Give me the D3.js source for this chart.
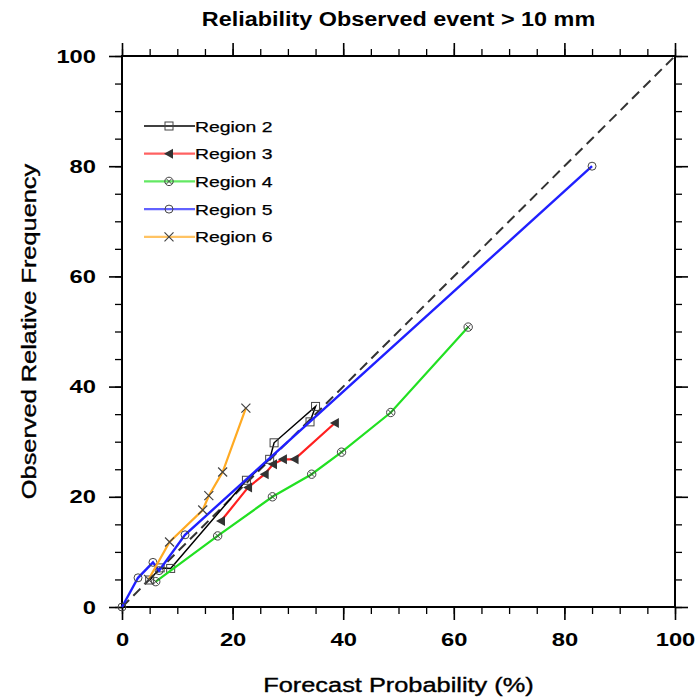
<!DOCTYPE html>
<html>
<head>
<meta charset="utf-8">
<script src="https://cdn.jsdelivr.net/npm/d3@7"></script>
<style>
  body { margin: 0; background: #fff; }
  text { font-family: "Liberation Sans", Arial, sans-serif; fill: #000; }
</style>
</head>
<body>
<script>
// chart size
var w = 696;
var h = 699;

// plot box
var pdL = 122;
var pdR = 21;
var pdT = 56;
var pdB = 92;

// data (forecast prob %, observed freq %)
var seriesNames = ["Region 2", "Region 3", "Region 4", "Region 5", "Region 6"];
var region2 = [[5.0, 4.9], [6.9, 7.1], [8.8, 7.0], [22.5, 23.0], [26.7, 26.8], [27.5, 29.8], [35.0, 36.4], [34.0, 33.6]];
var region3 = [[17.9, 15.6], [22.8, 21.7], [25.8, 24.1], [27.3, 25.9], [29.1, 26.8], [31.2, 26.8], [38.5, 33.4]];
var region4 = [[6.1, 4.6], [17.3, 12.9], [27.2, 20.0], [34.3, 24.1], [39.7, 28.1], [48.6, 35.3], [62.6, 50.8]];
var region5 = [[0, 0], [2.9, 5.3], [5.6, 8.1], [6.7, 6.6], [11.4, 13.1], [85.0, 80.0]];
var region6 = [[4.8, 5.0], [8.6, 11.8], [14.6, 17.6], [15.7, 20.2], [18.2, 24.5], [22.4, 36.1]];
var xTicks = [0, 20, 40, 60, 80, 100];
var yTicks = [0, 20, 40, 60, 80, 100];
var minorTicks = d3.range(0, 101, 5);

var allData = [region2, region3, region4, region5, region6];
var lineCols = ["#000000", "#ff2020", "#22e022", "#2020ff", "#ffaa22"];
var lineWs = [1.5, 2.2, 2.2, 2.4, 2.2];
var markTypes = ["square", "triangle", "crosscircle", "circle", "x"];

// the reference text is drawn wide, stretch it a bit
var stretch = function(sel, f) {
  sel.each(function() {
    var len = this.getComputedTextLength();
    d3.select(this).attr("textLength", len * f).attr("lengthAdjust", "spacingAndGlyphs");
  });
};

var svg = d3.select("body").append("svg")
    .attr("width", w)
    .attr("height", h);

var scaleX = d3.scaleLinear().domain([0, 100]).range([pdL, w - pdR]);
var scaleY = d3.scaleLinear().domain([0, 100]).range([h - pdB, pdT]);

// ticks on all four sides, outward
var majLen = 13, minLen = 7;
var axes = [
  { ax: d3.axisBottom(scaleX), tr: "translate(0," + (h - pdB) + ")", lab: true, tv: xTicks },
  { ax: d3.axisTop(scaleX), tr: "translate(0," + pdT + ")", lab: false, tv: xTicks },
  { ax: d3.axisLeft(scaleY), tr: "translate(" + pdL + ",0)", lab: true, tv: yTicks },
  { ax: d3.axisRight(scaleY), tr: "translate(" + (w - pdR) + ",0)", lab: false, tv: yTicks }
];
axes.forEach(function(a) {
  // minor ticks
  var gMin = svg.append("g").attr("transform", a.tr)
     .call(a.ax.tickValues(minorTicks).tickSize(minLen).tickFormat(""));
  gMin.select(".domain").remove();
  gMin.selectAll("line").attr("stroke", "#000").attr("stroke-width", 1.3);
  // major ticks
  var gMaj = svg.append("g").attr("transform", a.tr)
     .call(a.ax.tickValues(a.tv).tickSize(majLen).tickPadding(13)
       .tickFormat(a.lab ? d3.format("d") : ""));
  gMaj.select(".domain").remove();
  gMaj.selectAll("line").attr("stroke", "#000").attr("stroke-width", 1.6);
  var tx = gMaj.selectAll("text")
     .style("font-family", "Liberation Sans, Arial, sans-serif")
     .style("font-size", "19px")
     .style("font-weight", "bold")
     .attr("fill", "#000");
  if (a.lab) stretch(tx, 1.25);
});

// frame
svg.append("rect")
   .attr("x", pdL).attr("y", pdT)
   .attr("width", w - pdL - pdR).attr("height", h - pdT - pdB)
   .attr("fill", "none").attr("stroke", "#000").attr("stroke-width", 2);

// diagonal reference
svg.append("line")
   .attr("x1", scaleX(0)).attr("y1", scaleY(0))
   .attr("x2", scaleX(100)).attr("y2", scaleY(100))
   .attr("stroke", "#333").attr("stroke-width", 2)
   .attr("stroke-dasharray", "10,6");

var line = d3.line()
    .x(function(d) { return scaleX(d[0]); })
    .y(function(d) { return scaleY(d[1]); });

// marker helper
var drawMark = function(g, type, x, y) {
  var c = "#444";
  if (type === "square") {
    g.append("rect").attr("x", x - 4).attr("y", y - 4).attr("width", 8).attr("height", 8)
     .attr("fill", "none").attr("stroke", c).attr("stroke-width", 1);
  } else if (type === "circle") {
    g.append("circle").attr("cx", x).attr("cy", y).attr("r", 4)
     .attr("fill", "none").attr("stroke", c).attr("stroke-width", 1);
  } else if (type === "crosscircle") {
    g.append("circle").attr("cx", x).attr("cy", y).attr("r", 4.2)
     .attr("fill", "none").attr("stroke", c).attr("stroke-width", 1);
    g.append("path").attr("d", "M" + (x - 2.6) + "," + (y - 2.6) + "L" + (x + 2.6) + "," + (y + 2.6) +
        "M" + (x - 2.6) + "," + (y + 2.6) + "L" + (x + 2.6) + "," + (y - 2.6))
     .attr("stroke", c).attr("stroke-width", 1);
  } else if (type === "triangle") {
    g.append("path").attr("d", "M" + (x - 5) + "," + y + "L" + (x + 4) + "," + (y - 5) + "L" + (x + 4) + "," + (y + 5) + "Z")
     .attr("fill", "#333");
  } else if (type === "x") {
    g.append("path").attr("d", "M" + (x - 4.5) + "," + (y - 4.5) + "L" + (x + 4.5) + "," + (y + 4.5) +
        "M" + (x - 4.5) + "," + (y + 4.5) + "L" + (x + 4.5) + "," + (y - 4.5))
     .attr("stroke", c).attr("stroke-width", 1.2);
  }
};

// series
for (var i = 0; i < allData.length; i++) {
  svg.append("path")
     .datum(allData[i])
     .attr("d", line)
     .attr("fill", "none")
     .attr("stroke", lineCols[i])
     .attr("stroke-width", lineWs[i]);
  var gm = svg.append("g");
  allData[i].forEach(function(d) {
    drawMark(gm, markTypes[i], scaleX(d[0]), scaleY(d[1]));
  });
}

// legend
var lgX = 144, lgY = 126, lgDy = 27.7;
for (var j = 0; j < seriesNames.length; j++) {
  var yy = lgY + j * lgDy;
  svg.append("line")
     .attr("x1", lgX).attr("x2", lgX + 51)
     .attr("y1", yy).attr("y2", yy)
     .attr("stroke", lineCols[j]).attr("stroke-width", lineWs[j]).attr("opacity", j === 0 ? 1 : 0.7);
  drawMark(svg.append("g"), markTypes[j], lgX + 25, yy);
  var lt = svg.append("text")
     .text(seriesNames[j])
     .attr("x", lgX + 51).attr("y", yy + 5.5)
     .attr("stroke", "#000").attr("stroke-width", 0.25)
     .style("font-size", "15.5px");
  stretch(lt, 1.25);
}

// title and axis labels
var tt = svg.append("text")
   .text("Reliability Observed event > 10 mm")
   .attr("x", (pdL + w - pdR) / 2).attr("y", 26)
   .attr("text-anchor", "middle")
   .style("font-size", "20px")
   .style("font-weight", "bold");
stretch(tt, 1.17);

var xl = svg.append("text")
   .text("Forecast Probability (%)")
   .attr("x", (pdL + w - pdR) / 2).attr("y", 692)
   .attr("text-anchor", "middle")
   .attr("stroke", "#000").attr("stroke-width", 0.35)
   .style("font-size", "19.5px");
stretch(xl, 1.3);

var yl = svg.append("text")
   .text("Observed Relative Frequency")
   .attr("transform", "translate(36," + ((pdT + h - pdB) / 2) + ") rotate(-90)")
   .attr("text-anchor", "middle")
   .attr("stroke", "#000").attr("stroke-width", 0.35)
   .style("font-size", "19.5px");
stretch(yl, 1.3);
</script>
</body>
</html>
